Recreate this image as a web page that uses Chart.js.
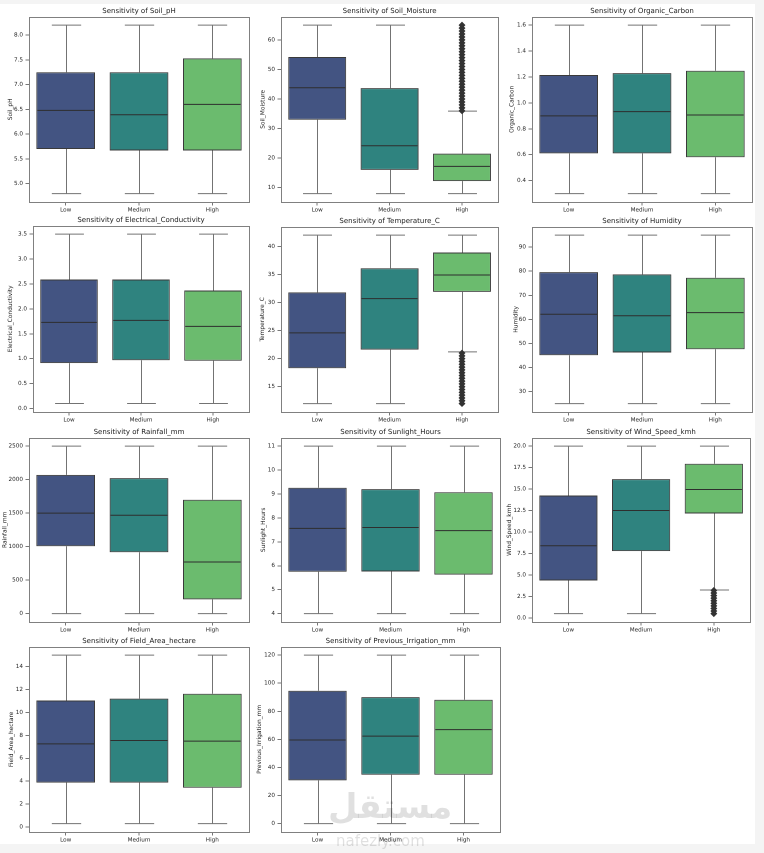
<!DOCTYPE html>
<html><head><meta charset="utf-8">
<script src="https://cdn.jsdelivr.net/npm/chart.js@4.4.1/dist/chart.umd.min.js"></script>
<style>
html,body{margin:0;padding:0;background:#f4f4f4;width:764px;height:853px;overflow:hidden;}
#fig{position:absolute;left:0;top:4px;width:755px;height:840px;background:#fff;}
canvas{position:absolute;}
.wm1{position:absolute;left:328px;top:782px;font-family:"Noto Sans","DejaVu Sans",sans-serif;font-size:34px;font-weight:bold;color:rgba(0,0,0,0.12);z-index:5;direction:rtl;}
.wm2{position:absolute;left:336px;top:832px;font-family:"DejaVu Sans",sans-serif;font-size:15px;color:rgba(0,0,0,0.12);z-index:5;}
</style></head><body>
<div id="fig"></div>
<div class="wm1">مستقل</div>
<div class="wm2">nafezly.com</div>
<script>
const categories = ['Low','Medium','High'];
const boxColors = ['#435482','#2f837f','#6bbb6e'];
// each row: [lower whisker, Q1, median, Q3, upper whisker] for Low, Medium, High
const soilPhStats = [[4.8,5.70,6.48,7.25,8.2],[4.8,5.67,6.39,7.25,8.2],[4.8,5.67,6.60,7.53,8.2]];
const soilPhTicks = [5.0,5.5,6.0,6.5,7.0,7.5,8.0];
const soilMoistureStats = [[8,33.0,43.8,54.2,65],[8,16.0,24.2,43.7,65],[8,12.2,17.2,21.5,35.9]];
const soilMoistureOutliersHigh = [36,37,38,39,40,41,42,43,44,45,46,47,48,49,50,51,52,53,54,55,56,57,58,59,60,61,62,63,64,65];
const soilMoistureTicks = [10,20,30,40,50,60];
const organicCarbonStats = [[0.3,0.61,0.90,1.215,1.6],[0.3,0.61,0.932,1.23,1.6],[0.3,0.58,0.906,1.248,1.6]];
const organicCarbonTicks = [0.4,0.6,0.8,1.0,1.2,1.4,1.6];
const conductivityStats = [[0.1,0.91,1.73,2.59,3.5],[0.1,0.97,1.77,2.59,3.5],[0.1,0.96,1.65,2.37,3.5]];
const conductivityTicks = [0.0,0.5,1.0,1.5,2.0,2.5,3.0,3.5];
const temperatureStats = [[12,18.3,24.6,31.8,42],[12,21.6,30.7,36.1,42],[21.2,31.9,34.9,38.9,42]];
const temperatureOutliersHigh = [12,12.5,13,13.5,14,14.5,15,15.5,16,16.5,17,17.5,18,18.5,19,19.5,20,20.5,21];
const temperatureTicks = [15,20,25,30,35,40];
const humidityStats = [[25,45.1,62.1,79.6,95],[25,46.2,61.5,78.7,95],[25,47.6,62.8,77.3,95]];
const humidityTicks = [30,40,50,60,70,80,90];
const rainfallStats = [[0,1005,1500,2070,2500],[0,915,1468,2022,2500],[0,212,770,1700,2500]];
const rainfallTicks = [0,500,1000,1500,2000,2500];
const sunlightStats = [[4,5.75,7.56,9.26,11],[4,5.76,7.60,9.20,11],[4,5.63,7.47,9.07,11]];
const sunlightTicks = [4,5,6,7,8,9,10,11];
const windStats = [[0.5,4.35,8.4,14.25,20],[0.5,7.77,12.5,16.15,20],[3.25,12.15,14.95,17.95,20]];
const windOutliersHigh = [0.5,0.8,1.1,1.4,1.7,2.0,2.3,2.6,2.9,3.2];
const windTicks = [0.0,2.5,5.0,7.5,10.0,12.5,15.0,17.5,20.0];
const fieldStats = [[0.3,3.87,7.25,11.04,15],[0.3,3.87,7.55,11.2,15],[0.3,3.43,7.5,11.63,15]];
const fieldTicks = [0,2,4,6,8,10,12,14];
const irrigationStats = [[0,30.8,59.5,94.6,120],[0,34.8,62.3,90.1,120],[0,34.8,66.9,88.2,120]];
const irrigationTicks = [0,20,40,60,80,100,120];

const panels = [
  {name:'Soil_pH', stats:soilPhStats, ticks:soilPhTicks, dec:1, out:null},
  {name:'Soil_Moisture', stats:soilMoistureStats, ticks:soilMoistureTicks, dec:0, out:{cat:'High', values:soilMoistureOutliersHigh}},
  {name:'Organic_Carbon', stats:organicCarbonStats, ticks:organicCarbonTicks, dec:1, out:null},
  {name:'Electrical_Conductivity', stats:conductivityStats, ticks:conductivityTicks, dec:1, out:null},
  {name:'Temperature_C', stats:temperatureStats, ticks:temperatureTicks, dec:0, out:{cat:'High', values:temperatureOutliersHigh}},
  {name:'Humidity', stats:humidityStats, ticks:humidityTicks, dec:0, out:null},
  {name:'Rainfall_mm', stats:rainfallStats, ticks:rainfallTicks, dec:0, out:null},
  {name:'Sunlight_Hours', stats:sunlightStats, ticks:sunlightTicks, dec:0, out:null},
  {name:'Wind_Speed_kmh', stats:windStats, ticks:windTicks, dec:1, out:{cat:'High', values:windOutliersHigh}},
  {name:'Field_Area_hectare', stats:fieldStats, ticks:fieldTicks, dec:0, out:null},
  {name:'Previous_Irrigation_mm', stats:irrigationStats, ticks:irrigationTicks, dec:0, out:null}
];

// plot-area rectangles in page pixels: left, top, right, bottom, y-label distance from axis
const rects = [
  [29,16.5,249,202,18.3],[281,17,500,202,18],[532,17,752,202,20],
  [33,226,249,412,22.3],[281,226.5,500,412,18.4],[532,226.5,752,412,16],
  [29,438,249,622,24],[281,438,500,622,17.7],[532,438,752,622,22.7],
  [29,647,249,832,17.3],[281,647,500,832,21.3]
];

const FONT = 'DejaVu Sans';
const YW = 29, XH = 14, TITLE_H = 7*1.2 + 2 + 1.3;

function boxPlugin(stats){
  return {
    id:'boxparts',
    beforeDatasetsDraw(chart){
      const ctx = chart.ctx, xs = chart.scales.x, ys = chart.scales.y;
      const meta = chart.getDatasetMeta(0);
      ctx.save();
      ctx.strokeStyle = '#737373'; ctx.lineWidth = 1;
      stats.forEach((s,i)=>{
        const x = Math.round(xs.getPixelForValue(i)) + 0.5;
        const half = meta.data[i].width/4;
        const yLo = ys.getPixelForValue(s[0]), yQ1 = ys.getPixelForValue(s[1]);
        const yQ3 = ys.getPixelForValue(s[3]), yHi = ys.getPixelForValue(s[4]);
        ctx.beginPath();
        ctx.moveTo(x,yQ1); ctx.lineTo(x,yLo);
        ctx.moveTo(x-half,yLo); ctx.lineTo(x+half,yLo);
        ctx.moveTo(x,yQ3); ctx.lineTo(x,yHi);
        ctx.moveTo(x-half,yHi); ctx.lineTo(x+half,yHi);
        ctx.stroke();
      });
      ctx.restore();
    },
    afterDatasetsDraw(chart){
      const ctx = chart.ctx, xs = chart.scales.x, ys = chart.scales.y;
      const meta = chart.getDatasetMeta(0);
      ctx.save();
      ctx.strokeStyle = '#2e2e2e'; ctx.lineWidth = 1;
      stats.forEach((s,i)=>{
        const x = xs.getPixelForValue(i);
        const half = meta.data[i].width/2;
        const ym = ys.getPixelForValue(s[2]);
        ctx.beginPath(); ctx.moveTo(x-half+1,ym); ctx.lineTo(x+half-1,ym); ctx.stroke();
      });
      ctx.restore();
    },
    afterDraw(chart){
      const a = chart.chartArea, ctx = chart.ctx;
      ctx.save(); ctx.strokeStyle = '#808080'; ctx.lineWidth = 1;
      ctx.strokeRect(Math.round(a.left)+0.5, Math.round(a.top)+0.5, Math.round(a.right-a.left), Math.round(a.bottom-a.top));
      ctx.restore();
    }
  };
}

panels.forEach((p, idx)=>{
  const r = rects[idx];
  const cl = r[0]-YW, ct = r[1]-TITLE_H;
  const cw = Math.round(r[2]-cl+3), ch = Math.round(r[3]-ct+XH);
  const cv = document.createElement('canvas');
  cv.width = cw; cv.height = ch;
  cv.style.left = cl+'px'; cv.style.top = ct+'px';
  cv.style.width = cw+'px'; cv.style.height = ch+'px';
  document.body.appendChild(cv);

  const lows = p.stats.map(s=>s[0]).concat(p.out ? p.out.values : []);
  const highs = p.stats.map(s=>s[4]).concat(p.out ? p.out.values : []);
  const lo = Math.min(...lows), hi = Math.max(...highs), pad = (hi-lo)*0.05;

  const datasets = [{
    type:'bar',
    data: p.stats.map(s=>[s[1], s[3]]),
    backgroundColor: boxColors,
    borderColor: '#3a3a3a',
    borderWidth: 1,
    borderSkipped: false,
    barPercentage: 0.8,
    categoryPercentage: 1.0
  }];
  if (p.out){
    datasets.push({
      type:'line',
      data: p.out.values.map(v=>({x:p.out.cat, y:v})),
      showLine:false,
      pointStyle:'rectRot',
      pointRadius:2.9,
      pointBackgroundColor:'#333333',
      pointBorderColor:'#333333',
      pointBorderWidth:0.8
    });
  }
  const labelPadTop = Math.max(0, (YW - r[4]) - 5.9*1.2/2);
  new Chart(cv, {
    type:'bar',
    data:{labels:categories, datasets},
    plugins:[boxPlugin(p.stats)],
    options:{
      responsive:false, animation:false, devicePixelRatio:2,
      layout:{padding:{left:0,right:3,top:0,bottom:0}},
      plugins:{
        legend:{display:false}, tooltip:{enabled:false},
        title:{display:true, fullSize:false, text:'Sensitivity of '+p.name, color:'#222',
          font:{family:FONT, size:7, weight:'normal', lineHeight:1.2}, padding:{top:2,bottom:1.3}}
      },
      scales:{
        x:{type:'category', offset:true,
          grid:{display:true, drawOnChartArea:false, drawTicks:true, tickLength:3.5, offset:false, color:'#555', tickColor:'#555', lineWidth:0.8},
          border:{display:false},
          ticks:{color:'#262626', font:{family:FONT, size:5.7}, padding:1, maxRotation:0, autoSkip:false},
          afterFit(s){ s.height = XH; }
        },
        y:{type:'linear', min:lo-pad, max:hi+pad,
          grid:{display:true, drawOnChartArea:false, drawTicks:true, tickLength:3.5, color:'#555', tickColor:'#555', lineWidth:0.8},
          border:{display:false},
          ticks:{color:'#262626', font:{family:FONT, size:5.7}, padding:2.5,
            callback:(v)=>Number(v).toFixed(p.dec)},
          title:{display:true, text:p.name, color:'#262626', font:{family:FONT, size:5.9, lineHeight:1.2}, padding:{top:labelPadTop,bottom:0}},
          afterBuildTicks(s){ s.ticks = p.ticks.map(v=>({value:v})); },
          afterFit(s){ s.width = YW; }
        }
      }
    }
  });
});
</script>
</body></html>
